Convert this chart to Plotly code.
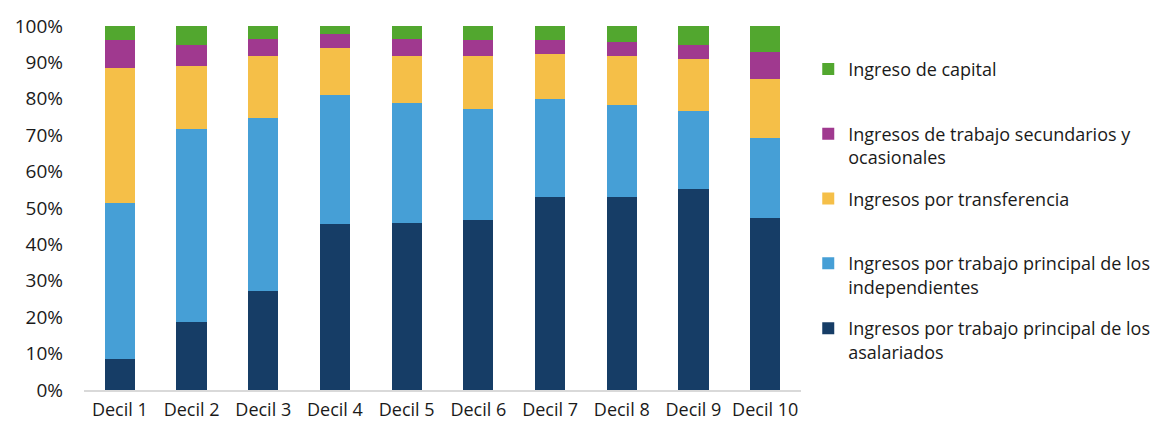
import plotly.graph_objects as go

deciles = ["Decil 1", "Decil 2", "Decil 3", "Decil 4", "Decil 5",
           "Decil 6", "Decil 7", "Decil 8", "Decil 9", "Decil 10"]

# Shares of total household income by source (%)
asalariados = [8.4, 18.7, 27.3, 45.6, 46.0, 46.6, 53.0, 53.0, 55.2, 47.2]
independientes = [43.1, 53.1, 47.3, 35.4, 32.8, 30.6, 27.0, 25.2, 21.5, 22.1]
transferencias = [37.1, 17.3, 17.1, 12.9, 12.9, 14.5, 12.3, 13.5, 14.1, 16.1]
secundarios = [7.6, 5.8, 4.8, 3.8, 4.8, 4.5, 3.8, 3.8, 4.1, 7.4]
capital = [3.8, 5.1, 3.5, 2.3, 3.5, 3.8, 3.9, 4.5, 5.1, 7.2]

pct_ticks = list(range(0, 101, 10))
pct_labels = [f"{v}%" for v in pct_ticks]

# Stacked bottom to top; the legend lists them top to bottom in reverse
series = [
    ("Ingresos por trabajo principal de los<br>asalariados", asalariados, "#163D66"),
    ("Ingresos por trabajo principal de los<br>independientes", independientes, "#469FD6"),
    ("Ingresos por transferencia<br> ", transferencias, "#F5BF48"),
    ("Ingresos de trabajo secundarios y<br>ocasionales", secundarios, "#A0398F"),
    ("Ingreso de capital<br> ", capital, "#52A72F"),
]

fig = go.Figure()
for i, (name, vals, color) in enumerate(series):
    fig.add_trace(go.Bar(
        x=deciles, y=vals, name=name,
        marker=dict(color=color, line=dict(width=0)),
        legendgroup=f"g{i}",
        legendrank=1000 - i,
    ))

fig.update_layout(
    barmode="stack",
    bargap=0.58,
    width=1153, height=423,
    margin=dict(l=84, r=352, t=26, b=33),
    paper_bgcolor="white",
    plot_bgcolor="white",
    font=dict(family="Open Sans", size=18, color="#1a1a1a"),
    legend=dict(
        traceorder="grouped",
        x=0.701, xref="container", xanchor="left",
        y=0.88, yref="container", yanchor="top",
        valign="top",
        tracegroupgap=15,
        font=dict(size=18),
        itemwidth=30,
        maxheight=1,
    ),
    showlegend=True,
)
fig.update_yaxes(
    range=[0, 100], tickvals=pct_ticks, ticktext=pct_labels,
    showgrid=False, zeroline=False, automargin=False,
    tickfont=dict(size=19), ticks="", ticklabelstandoff=20,
)
fig.update_xaxes(
    showline=True, linecolor="#D9D9D9", linewidth=1.5, automargin=False,
    tickfont=dict(size=18), ticks="", ticklabelstandoff=3,
)

fig.write_html("out.html")
